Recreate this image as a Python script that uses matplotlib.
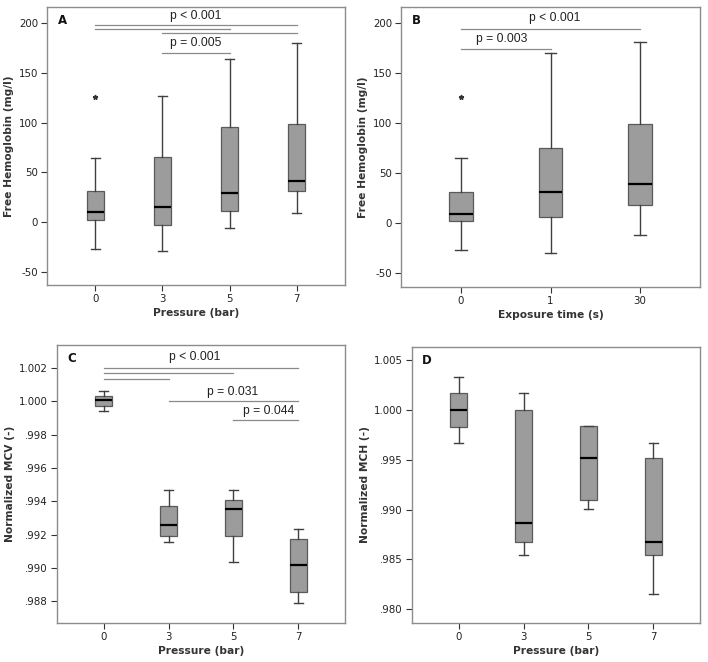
import numpy as np
import matplotlib
matplotlib.use("Agg")
import matplotlib.pyplot as plt

# panel A - free hemoglobin vs pressure
a_cats = ['0', '3', '5', '7']
a_low = [-27, -29, -6, 9]
a_q1 = [2, -3, 11, 31]
a_med = [10, 15, 29, 41]
a_q3 = [31, 65, 95, 99]
a_high = [64, 127, 164, 180]
a_out = [[126], [], [], []]

# panel B - free hemoglobin vs exposure time
b_cats = ['0', '1', '30']
b_low = [-27, -30, -12]
b_q1 = [2, 6, 18]
b_med = [9, 31, 39]
b_q3 = [31, 75, 99]
b_high = [65, 170, 181]
b_out = [[126], [], []]

# panel C - normalized MCV
c_cats = ['0', '3', '5', '7']
c_low = [0.99943, 0.99157, 0.99035, 0.98792]
c_q1 = [0.99973, 0.99193, 0.99193, 0.98854]
c_med = [1.00005, 0.99255, 0.99352, 0.99015]
c_q3 = [1.00031, 0.99374, 0.99410, 0.99173]
c_high = [1.00062, 0.99470, 0.99470, 0.99231]
c_out = [[], [], [], []]

# panel D - normalized MCH
d_cats = ['0', '3', '5', '7']
d_low = [0.99669, 0.98540, 0.99005, 0.98151]
d_q1 = [0.99830, 0.98674, 0.99099, 0.98540]
d_med = [1.00004, 0.98868, 0.99518, 0.98674]
d_q3 = [1.00175, 1.00000, 0.99836, 0.99518]
d_high = [1.00336, 1.00175, 0.99836, 0.99669]
d_out = [[], [], [], []]

# significance bars: (from group, to group, y) and labels (x, y, text)
a_lines = [(0, 3, 198.3), (0, 2, 194.0), (1, 3, 190.0), (1, 2, 170.0)]
a_texts = [(1.5, 207, 'p < 0.001'), (1.5, 180, 'p = 0.005')]
b_lines = [(0, 2, 194.7), (0, 1, 174.7)]
b_texts = [(1.05, 205, 'p < 0.001'), (0.45, 184, 'p = 0.003')]
c_lines = [(0, 3, 1.0020), (0, 2, 1.0017), (0, 1, 1.00134), (1, 3, 1.00001), (2, 3, 0.99889)]
c_texts = [(1.4, 1.00264, 'p < 0.001'), (1.98, 1.00056, 'p = 0.031'), (2.55, 0.99939, 'p = 0.044')]

hb_ticks = [-50, 0, 50, 100, 150, 200]
hb_labels = ['-50', '0', '50', '100', '150', '200']
mcv_ticks = [0.988, 0.990, 0.992, 0.994, 0.996, 0.998, 1.000, 1.002]
mcv_labels = ['.988', '.990', '.992', '.994', '.996', '.998', '1.000', '1.002']
mch_ticks = [0.980, 0.985, 0.990, 0.995, 1.000, 1.005]
mch_labels = ['.980', '.985', '.990', '.995', '1.000', '1.005']

TICK_FS = 7.4
LAB_FS = 7.7
P_FS = 8.7


def panel(ax, letter, cats, low, q1, med, q3, high, out, xlab, ylab,
          yticks, ylabels, ylim, lines=(), texts=()):
    stats = []
    for i in range(len(cats)):
        stats.append(dict(whislo=low[i], q1=q1[i], med=med[i], q3=q3[i],
                          whishi=high[i], fliers=out[i]))
    pos = np.arange(len(cats))
    ax.bxp(stats, positions=pos, widths=0.26, capwidths=0.13,
           patch_artist=True, showfliers=True,
           boxprops=dict(facecolor='#9c9c9c', edgecolor='#5a5a5a', linewidth=0.9),
           medianprops=dict(color='black', linewidth=1.6),
           whiskerprops=dict(color='#404040', linewidth=1.0),
           capprops=dict(color='#404040', linewidth=1.0),
           flierprops=dict(marker='*', markersize=3.5, markerfacecolor='#333333',
                           markeredgecolor='#333333', linestyle='none'))
    for i, j, y in lines:
        ax.plot([pos[i], pos[j]], [y, y], color='#8a8a8a', linewidth=0.9)
    for x, y, t in texts:
        ax.text(x, y, t, ha='center', va='center', fontsize=P_FS,
                family='Liberation Sans', color='#222222')
    ax.set_xlim(-0.72, len(cats) - 1 + 0.72)
    ax.set_ylim(*ylim)
    ax.set_xticks(pos)
    ax.set_xticklabels(cats)
    ax.set_yticks(yticks)
    ax.set_yticklabels(ylabels)
    ax.tick_params(labelsize=TICK_FS, length=4, width=0.8, colors='#333333',
                   labelcolor='#222222', pad=2.5)
    for s in ax.spines.values():
        s.set_color('#8c8c8c')
        s.set_linewidth(1.0)
    ax.set_xlabel(xlab, fontsize=LAB_FS, fontweight='bold', color='#333333', labelpad=3)
    ax.set_ylabel(ylab, fontsize=LAB_FS, fontweight='bold', color='#333333', labelpad=3)
    ax.text(0.035, 0.975, letter, transform=ax.transAxes, ha='left', va='top',
            fontsize=8.5, fontweight='bold', color='#111111')


fig = plt.figure(figsize=(7.08, 6.62), dpi=100)
axA = fig.add_axes([0.0664, 0.5695, 0.4209, 0.4200])
axB = fig.add_axes([0.5664, 0.5665, 0.4223, 0.4230])
axC = fig.add_axes([0.0805, 0.0589, 0.4068, 0.4200])
axD = fig.add_axes([0.5819, 0.0589, 0.4068, 0.4170])

panel(axA, 'A', a_cats, a_low, a_q1, a_med, a_q3, a_high, a_out,
      'Pressure (bar)', 'Free Hemoglobin (mg/l)', hb_ticks, hb_labels,
      (-63.5, 216.3), a_lines, a_texts)
panel(axB, 'B', b_cats, b_low, b_q1, b_med, b_q3, b_high, b_out,
      'Exposure time (s)', 'Free Hemoglobin (mg/l)', hb_ticks, hb_labels,
      (-63.7, 216.3), b_lines, b_texts)
axB.set_xlim(-0.67, 2.67)
panel(axC, 'C', c_cats, c_low, c_q1, c_med, c_q3, c_high, c_out,
      'Pressure (bar)', 'Normalized MCV (-)', mcv_ticks, mcv_labels,
      (0.98670, 1.00338), c_lines, c_texts)
panel(axD, 'D', d_cats, d_low, d_q1, d_med, d_q3, d_high, d_out,
      'Pressure (bar)', 'Normalized MCH (-)', mch_ticks, mch_labels,
      (0.97859, 1.00634))

fig.savefig('out.png', dpi=100, facecolor='white')
